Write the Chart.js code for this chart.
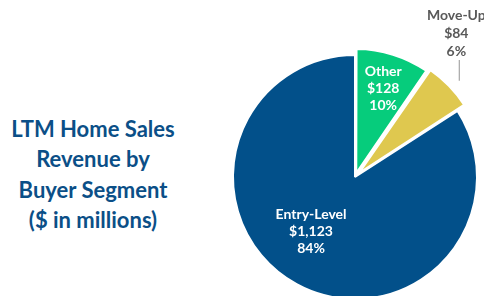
<!DOCTYPE html>
<html>
<head>
<meta charset="utf-8">
<script src="https://cdn.jsdelivr.net/npm/chart.js@4.4.1/dist/chart.umd.min.js"></script>
<style>
  html, body { margin: 0; padding: 0; background: #fff; }
  body { width: 484px; height: 296px; overflow: hidden; position: relative; }
  #title {
    position: absolute; left: 0; width: 186px; top: 114px;
    text-align: center; color: #0b4f87;
    font-family: Lato, "Open Sans", sans-serif; font-weight: bold;
    font-size: 22px; line-height: 30.3px;
  }
  #wrap { position: absolute; left: 215px; top: 0; width: 280px; height: 354px; }
</style>
</head>
<body>
<div id="title">LTM Home Sales<br>Revenue by<br>Buyer Segment<br>($ in millions)</div>
<div id="wrap"><canvas id="pie"></canvas></div>
<script>
// datos
const segments = ['Other', 'Move-Up', 'Entry-Level'];
const revenue = [128, 84, 1123];
const shares = [10, 6, 84];
const sliceColors = ['#06cc7c', '#dfc84f', '#02508a'];

// etiquetas dentro / fuera de cada porción
const labelPlugin = {
  id: 'segLabels',
  afterDatasetsDraw(chart) {
    const c = chart.ctx;
    const meta = chart.getDatasetMeta(0);
    c.save();
    c.textAlign = 'center';
    c.textBaseline = 'middle';
    c.font = 'bold 14px Lato, "Open Sans", sans-serif';
    meta.data.forEach((arc, i) => {
      const p = arc.getProps(['x', 'y', 'startAngle', 'endAngle', 'outerRadius'], true);
      const off = arc.options.offset || 0;
      const lines = [segments[i], '$' + revenue[i].toLocaleString('en-US'), shares[i] + '%'];
      const place = {
        'Other': { r: 0.64, turn: 0, inside: true },
        'Entry-Level': { r: 0.56, turn: 0.2, inside: true },
        'Move-Up': { r: 1, turn: 0, inside: false }
      }[segments[i]];
      const mid = (p.startAngle + p.endAngle) / 2 + place.turn;
      const dist = p.outerRadius * place.r + off;
      const ax = p.x + Math.cos(mid) * dist;
      const ay = p.y + Math.sin(mid) * dist;
      if (place.inside) {
        c.fillStyle = '#ffffff';
        lines.forEach((t, k) => c.fillText(t, ax, ay + 2 + (k - 1) * 17));
      } else {
        const top = 15;
        c.strokeStyle = '#a6a6a6';
        c.lineWidth = 1.2;
        c.beginPath();
        c.moveTo(ax + 1, ay + 4);
        c.lineTo(ax + 1, top + 45);
        c.stroke();
        c.fillStyle = '#595959';
        lines.forEach((t, k) => c.fillText(t, ax - 2, top + k * 18));
      }
    });
    c.restore();
  }
};

new Chart(document.getElementById('pie'), {
  type: 'pie',
  data: {
    labels: segments,
    datasets: [{
      data: revenue,
      backgroundColor: sliceColors,
      borderColor: '#ffffff',
      borderWidth: 2,
      offset: [17, 22, 0]
    }]
  },
  options: {
    responsive: true,
    maintainAspectRatio: false,
    animation: false,
    radius: 122,
    layout: { padding: 0 },
    plugins: {
      legend: { display: false },
      tooltip: { enabled: false }
    }
  },
  plugins: [labelPlugin]
});
</script>
</body>
</html>
